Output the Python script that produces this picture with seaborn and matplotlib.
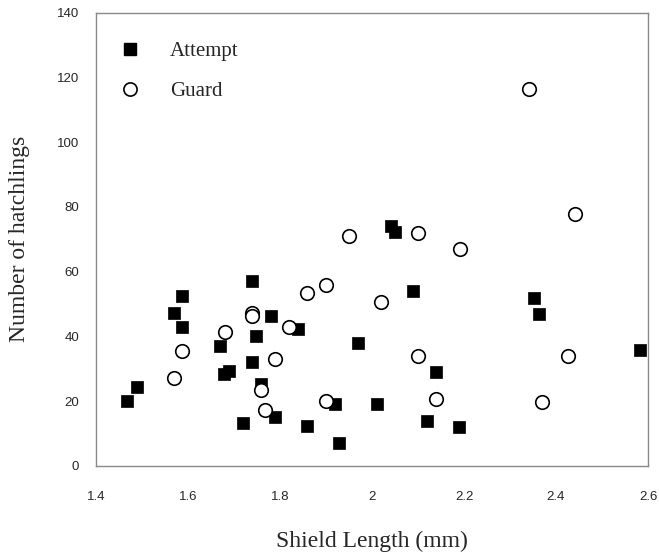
import matplotlib
matplotlib.use("Agg")
import matplotlib.pyplot as plt
import seaborn as sns
import pandas as pd
from matplotlib.lines import Line2D

# Data
attempt_x = [1.467, 1.49, 1.588, 1.569, 1.588, 1.739, 1.780, 1.840, 1.748, 1.670,
             1.739, 1.679, 1.690, 1.758, 1.720, 1.790, 1.858, 2.090, 1.970, 2.140,
             1.919, 2.010, 2.120, 2.190, 1.928, 2.352, 2.362, 2.583, 2.041, 2.050]
attempt_y = [20, 24.4, 52.5, 47.4, 43, 57, 46.2, 42.2, 40.3, 37.2,
             32, 28.5, 29.3, 25.2, 13.2, 15.1, 12.3, 53.9, 37.9, 29,
             19.1, 19, 13.9, 11.9, 7.2, 51.9, 47, 35.8, 74.1, 72.2]

guard_x = [1.858, 1.739, 1.739, 1.819, 1.680, 1.588, 1.570, 1.789, 1.758, 1.767,
           1.901, 2.020, 2.099, 2.139, 1.900, 2.426, 2.370, 1.951, 2.100, 2.191,
           2.341, 2.441]
guard_y = [53.3, 47.4, 46.4, 43, 41.4, 35.5, 27.3, 32.9, 23.5, 17.3,
           56, 50.7, 34, 20.8, 20, 34, 19.7, 71.1, 72, 66.9,
           116.5, 77.8]

x_ticks = [1.4, 1.6, 1.8, 2.0, 2.2, 2.4, 2.6]
x_tick_labels = ["1.4", "1.6", "1.8", "2", "2.2", "2.4", "2.6"]
y_ticks = [0, 20, 40, 60, 80, 100, 120, 140]

sns.set_style("white")
serif = ["Liberation Serif", "DejaVu Serif"]
sans = ["Liberation Sans", "DejaVu Sans"]

fig = plt.figure(figsize=(6.59, 5.56), dpi=100)
ax = fig.add_axes([96 / 659, 1 - 466 / 556, 552 / 659, 453.3 / 556])

df_a = pd.DataFrame({"x": attempt_x, "y": attempt_y})
df_g = pd.DataFrame({"x": guard_x, "y": guard_y})

sns.scatterplot(data=df_a, x="x", y="y", ax=ax, marker="s", s=70,
                color="black", edgecolor="black", linewidth=0.5, zorder=3)
sns.scatterplot(data=df_g, x="x", y="y", ax=ax, marker="o", s=95,
                facecolor="white", edgecolor="black", linewidth=1.2, zorder=4)

ax.set_xlim(1.4, 2.6)
ax.set_ylim(0, 140)
ax.set_xticks(x_ticks)
ax.set_xticklabels(x_tick_labels, family=sans, fontsize=9.5)
ax.set_yticks(y_ticks)
ax.set_yticklabels([str(v) for v in y_ticks], family=sans, fontsize=9.5)
ax.tick_params(axis="x", direction="in", length=4, width=0.8, color="#777777", pad=18)
ax.tick_params(axis="y", direction="in", length=4, width=0.8, color="#777777", pad=12)

for sp in ax.spines.values():
    sp.set_color("#888888")
    sp.set_linewidth(1.0)

ax.set_xlabel("Shield Length (mm)", family=serif, fontsize=17)
ax.set_ylabel("Number of hatchlings", family=serif, fontsize=17)
ax.xaxis.set_label_coords(0.5, -0.143)
ax.yaxis.set_label_coords(-0.12, 0.5)

handles = [
    Line2D([], [], marker="s", linestyle="none", markersize=8,
           markerfacecolor="black", markeredgecolor="black"),
    Line2D([], [], marker="o", linestyle="none", markersize=9.5,
           markerfacecolor="white", markeredgecolor="black", markeredgewidth=1.2),
]
ax.legend(handles, ["Attempt", "Guard"], loc="upper left",
          bbox_to_anchor=(0.009, 0.955), frameon=False,
          prop={"family": serif, "size": 15}, handletextpad=0.9,
          labelspacing=1.0, borderaxespad=0)

fig.savefig("out.png", dpi=100)
